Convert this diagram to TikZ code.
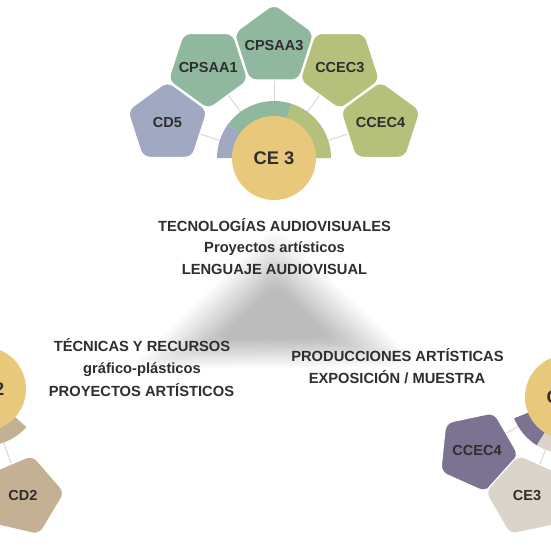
\documentclass[tikz,border=0pt]{standalone}
\usepackage{fontspec}
\setmainfont{Liberation Sans}
\usetikzlibrary{calc,shapes.geometric,backgrounds}
\definecolor{ceyellow}{HTML}{E8C97B}
\definecolor{cdblue}{HTML}{A0A9C1}
\definecolor{cpgreen}{HTML}{8FB89E}
\definecolor{ccolive}{HTML}{B5C07A}
\definecolor{cdtan}{HTML}{C4B092}
\definecolor{ccpurple}{HTML}{7C7393}
\definecolor{cebeige}{HTML}{DBD4CB}
\definecolor{txt}{HTML}{2E2E2E}
\definecolor{linkgrey}{HTML}{D9D9D9}
\newcommand{\ptext}[2][0pt]{\raisebox{#1}{\makebox[0pt]{#2}}}
\begin{document}
\begin{tikzpicture}[x=1pt,y=1pt,
  pent/.style={regular polygon, regular polygon sides=5, minimum size=84pt, inner sep=0pt,
    rounded corners=7pt, draw=white, line width=1.2pt, text=txt,
    font=\bfseries\fontsize{14.5}{17}\selectfont},
  hub/.style={circle, minimum size=84pt, inner sep=0pt, fill=ceyellow, text=txt,
    font=\bfseries\fontsize{18.3}{22}\selectfont},
  link/.style={draw=linkgrey, line width=1pt},
  caption/.style={anchor=base, text=txt, inner sep=0pt,
    font=\bfseries\fontsize{14.7}{17}\selectfont}
]
\useasboundingbox (0,0) rectangle (550,-550);

% hubs
\node[hub] (ce3) at (274,-158) {CE 3};
\node[hub] (ce2) at (-16,-389) {CE 2};
\node[hub] (ce4) at (567,-397) {CE 4};

% top cluster
\node[pent, fill=cdblue,  shape border rotate=72]  (cd5)    at ($(ce3)+(162:112)$) {\ptext[2pt]{CD5}};
\node[pent, fill=cpgreen, shape border rotate=36]  (cpsaa1) at ($(ce3)+(126:112)$) {\ptext[-2pt]{CPSAA1}};
\node[pent, fill=cpgreen, shape border rotate=0]   (cpsaa3) at ($(ce3)+(90:112)$)  {\ptext[2pt]{CPSAA3}};
\node[pent, fill=ccolive, shape border rotate=-36] (ccec3)  at ($(ce3)+(54:112)$)  {\ptext[-2pt]{CCEC3}};
\node[pent, fill=ccolive, shape border rotate=-72] (ccec4)  at ($(ce3)+(18:112)$)  {\ptext[2pt]{CCEC4}};

% bottom-left cluster
\node[pent, fill=cdtan, shape border rotate=203] (cd2) at (23,-496) {\ptext{CD2}};

% bottom-right cluster
\node[pent, fill=ccpurple, shape border rotate=120] (ccec4b) at (477,-451) {\ptext{CCEC4}};
\node[pent, fill=cebeige,  shape border rotate=156] (ce3b)   at (527,-496) {\ptext{CE3}};

% captions
\node[caption] (t1) at (274.5,-231) {TECNOLOGÍAS AUDIOVISUALES};
\node[caption] (t2) at (274.5,-252.5) {Proyectos artísticos};
\node[caption] (t3) at (274.5,-274) {LENGUAJE AUDIOVISUAL};
\node[caption] (l1) at (142,-351) {TÉCNICAS Y RECURSOS};
\node[caption] (l2) at (142,-373) {gráfico-plásticos};
\node[caption] (l3) at (141.5,-396) {PROYECTOS ARTÍSTICOS};
\node[caption] (r1) at (397.5,-361) {PRODUCCIONES ARTÍSTICAS};
\node[caption] (r2) at (397,-383) {EXPOSICIÓN / MUESTRA};

\begin{scope}[on background layer]
  \fill[white] (0,0) rectangle (550,-550);
  % soft triangular shadow
  \coordinate (tA) at (275,-248);
  \coordinate (tB) at (163,-358);
  \coordinate (tC) at (388,-356);
  \coordinate (tG) at (275.3,-320.7);
  \foreach \s in {0.5,0.55,...,1.32} {
    \fill[black, opacity=0.014, rounded corners=14pt]
      ($(tG)!\s!(tA)$) -- ($(tG)!\s!(tB)$) -- ($(tG)!\s!(tC)$) -- cycle;
  }
  % connectors
  \draw[link] (ce3) -- (cd5);
  \draw[link] (ce3) -- (cpsaa1);
  \draw[link] (ce3) -- (cpsaa3);
  \draw[link] (ce3) -- (ccec3);
  \draw[link] (ce3) -- (ccec4);
  \draw[link] (ce2) -- (cd2);
  \draw[link] (ce4) -- (ccec4b);
  \draw[link] (ce4) -- (ce3b);
  % rings
  \fill[ccolive] (ce3.center) -- ++(0:57) arc[start angle=0,end angle=72,radius=57] -- cycle;
  \fill[cpgreen] (ce3.center) -- ++(72:57) arc[start angle=72,end angle=144,radius=57] -- cycle;
  \fill[cdblue]  (ce3.center) -- ++(144:57) arc[start angle=144,end angle=180,radius=57] -- cycle;
  \fill[cdtan]   (ce2.center) -- ++(-42:57) arc[start angle=-42,end angle=-114,radius=57] -- cycle;
  \fill[ccpurple] (ce4.center) -- ++(202:57) arc[start angle=202,end angle=238,radius=57] -- cycle;
  \fill[cebeige]  (ce4.center) -- ++(238:57) arc[start angle=238,end angle=300,radius=57] -- cycle;
\end{scope}
\end{tikzpicture}
\end{document}
